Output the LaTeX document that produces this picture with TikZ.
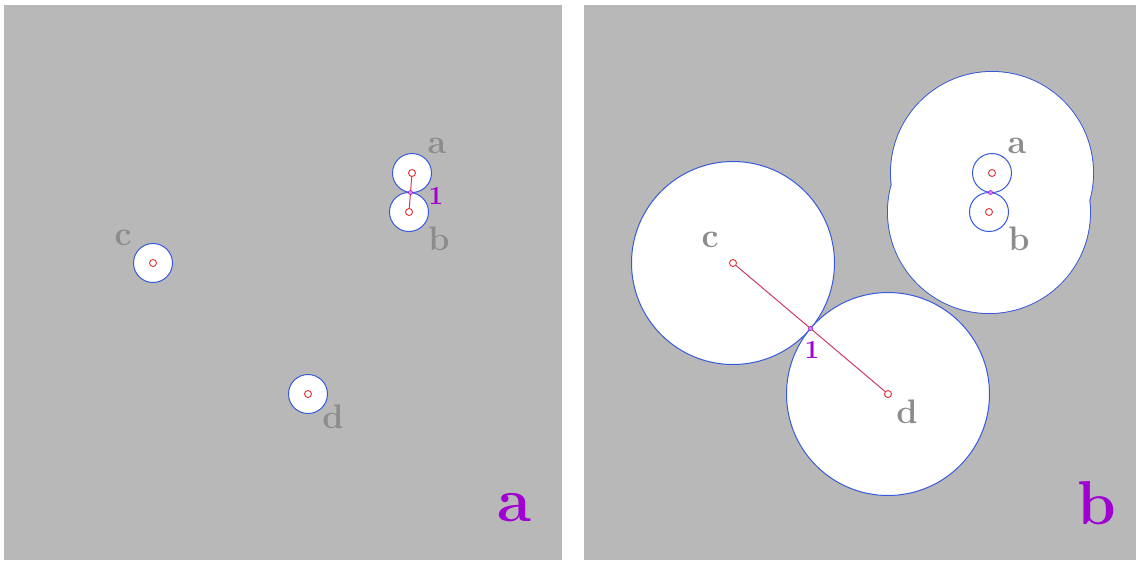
\documentclass[tikz,border=0pt]{standalone}
\usetikzlibrary{calc}
\definecolor{panelgray}{RGB}{184,184,184}
\definecolor{edgeblue}{RGB}{55,90,220}
\definecolor{ctrred}{RGB}{225,50,50}
\definecolor{linkred}{RGB}{205,60,100}
\definecolor{tpurple}{RGB}{160,0,210}
\definecolor{lblgray}{RGB}{140,140,140}
\tikzset{
  panel/.style={fill=panelgray, draw=none},
  disk/.style={circle, fill=white, draw=edgeblue, line width=1pt, inner sep=0pt, minimum size=#1},
  ctr/.style={circle, draw=ctrred, fill=white, line width=0.9pt, inner sep=0pt, minimum size=7pt},
  tang/.style={circle, draw=tpurple, fill=tpurple!40, line width=0.6pt, inner sep=0pt, minimum size=4pt},
  link/.style={draw=linkred, line width=1pt},
  lbl/.style={text=lblgray, font=\fontsize{34}{34}\selectfont\bfseries, inner sep=0pt},
  num/.style={text=tpurple, font=\fontsize{26}{26}\selectfont\bfseries, inner sep=0pt},
  big/.style={text=tpurple, font=\fontsize{62}{62}\selectfont\bfseries, inner sep=0pt},
}
\begin{document}
\begin{tikzpicture}[x=1pt,y=-1pt]
\useasboundingbox (0,0) rectangle (1136,560);
\fill[white] (0,0) rectangle (1136,560);
% panels
\path[panel] (4,5) rectangle (562,560);
\path[panel] (584,5) rectangle (1136,560);

% ---------- panel a ----------
\node[disk=39pt] (la) at (412,173) {};
\node[disk=39pt] (lb) at (409,212) {};
\node[disk=39pt] (lc) at (153,263) {};
\node[disk=39pt] (ld) at (308,394) {};
\path[link] (la.center) -- (lb.center);
\coordinate (ltab) at ($(la.center)!0.5!(lb.center)$);
\foreach \n in {la,lb,lc,ld} \node[ctr] at (\n.center) {};
\node[tang] at (ltab) {};
\node[lbl] at (437,146) {a};
\node[lbl] at (439,239) {b};
\node[lbl] at (123,238) {c};
\node[lbl] at (333,417) {d};
\node[num] at (436,196) {1};
\node[big] at (514,508) {a};

% ---------- panel b ----------
% union of the grown a and b disks
\draw[edgeblue, line width=1pt] (992,173) circle (101.5) (989,212) circle (101.5);
\fill[white] (992,173) circle (101) (989,212) circle (101);
\node[disk=203pt] (rc) at (733,263) {};
\node[disk=203pt] (rd) at (888,394) {};
\node[disk=39pt] (ra) at (992,173) {};
\node[disk=39pt] (rb) at (989,212) {};
\path[link] (rc.center) -- (rd.center);
\coordinate (rtcd) at ($(rc.center)!0.5!(rd.center)$);
\coordinate (rtab) at ($(ra.center)!0.5!(rb.center)$);
\foreach \n in {ra,rb,rc,rd} \node[ctr] at (\n.center) {};
\node[tang] at (rtcd) {};
\node[tang] at (rtab) {};
\node[lbl] at (1017,146) {a};
\node[lbl] at (1019,239) {b};
\node[lbl] at (710,240) {c};
\node[lbl] at (907,412) {d};
\node[num] at (812,350) {1};
\node[big] at (1097,503) {b};
\end{tikzpicture}
\end{document}
